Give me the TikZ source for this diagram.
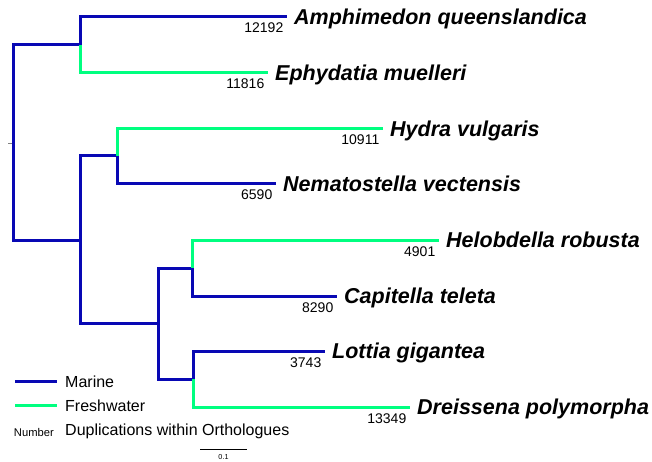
\documentclass[tikz,border=0pt]{standalone}
\usepackage{fontspec}
\setmainfont{Liberation Sans}
\definecolor{marineblue}{RGB}{8,8,180}
\definecolor{freshgreen}{RGB}{0,255,128}
\begin{document}
\begin{tikzpicture}[x=1pt,y=-1pt,line join=miter,
    marine/.style={draw=marineblue,line width=3pt},
    fresh/.style={draw=freshgreen,line width=3pt},
    taxon/.style={anchor=base west,inner sep=0pt,xshift=7pt,yshift=-7.7pt,
      font=\fontsize{21.5}{24}\selectfont\bfseries\itshape},
    dups/.style={anchor=base east,inner sep=0pt,xshift=-3.5pt,yshift=-16pt,
      font=\fontsize{14}{16}\selectfont},
    legtext/.style={anchor=west,inner sep=0pt,font=\fontsize{16}{18}\selectfont}]
  \useasboundingbox (0,0) rectangle (652,462);
  % inner nodes
  \coordinate (root) at (13,143);
  \coordinate (tick) at (8,143);
  \coordinate (porif) at (80,45);
  \coordinate (eumet) at (80,240);
  \coordinate (cnid) at (117,156);
  \coordinate (bilat) at (158,323);
  \coordinate (annel) at (192,268);
  \coordinate (mollu) at (193,379);
  % tips
  \coordinate (amq) at (287,17);
  \coordinate (emu) at (268,73);
  \coordinate (hvu) at (383,129);
  \coordinate (nve) at (276,184);
  \coordinate (hro) at (439,240);
  \coordinate (cte) at (337,296);
  \coordinate (lgi) at (325,351);
  \coordinate (dpo) at (410,407);
  \draw[gray,line width=0.8pt] (tick) -- (root);
  \draw[marine] (root) |- (porif);
  \draw[marine] (root) |- (eumet);
  \draw[marine] (porif) |- (amq);
  \draw[fresh] (porif) |- (emu);
  \draw[marine] (eumet) |- (cnid);
  \draw[marine] (eumet) |- (bilat);
  \draw[fresh] (cnid) |- (hvu);
  \draw[marine] (cnid) |- (nve);
  \draw[marine] (bilat) |- (annel);
  \draw[marine] (bilat) |- (mollu);
  \draw[fresh] (annel) |- (hro);
  \draw[marine] (annel) |- (cte);
  \draw[marine] (mollu) |- (lgi);
  \draw[fresh] (mollu) |- (dpo);
  % names and duplication counts
  \node[taxon] (amqname) at (amq) {Amphimedon queenslandica};
  \node[dups] (amqnum) at (amq) {12192};
  \node[taxon] (emuname) at (emu) {Ephydatia muelleri};
  \node[dups] (emunum) at (emu) {11816};
  \node[taxon] (hvuname) at (hvu) {Hydra vulgaris};
  \node[dups] (hvunum) at (hvu) {10911};
  \node[taxon] (nvename) at (nve) {Nematostella vectensis};
  \node[dups] (nvenum) at (nve) {6590};
  \node[taxon] (hroname) at (hro) {Helobdella robusta};
  \node[dups] (hronum) at (hro) {4901};
  \node[taxon] (ctename) at (cte) {Capitella teleta};
  \node[dups] (ctenum) at (cte) {8290};
  \node[taxon] (lginame) at (lgi) {Lottia gigantea};
  \node[dups] (lginum) at (lgi) {3743};
  \node[taxon] (dponame) at (dpo) {Dreissena polymorpha};
  \node[dups] (dponum) at (dpo) {13349};
  % legend
  \coordinate (marA) at (15,381);
  \coordinate (marB) at (57,381);
  \coordinate (freA) at (15,405);
  \coordinate (freB) at (57,405);
  \draw[marine] (marA) -- (marB);
  \draw[fresh] (freA) -- (freB);
  \node[legtext] (martext) at (65,382) {Marine};
  \node[legtext] (fretext) at (65,406) {Freshwater};
  \node[anchor=east,inner sep=0pt,font=\fontsize{11.2}{13}\selectfont] (numkey) at (54,432) {Number};
  \node[legtext] (duptext) at (65,431) {Duplications within Orthologues};
  % scale bar
  \coordinate (sbA) at (200,449);
  \coordinate (sbB) at (247,449);
  \draw[line width=0.8pt] (sbA) -- (sbB);
  \node[anchor=north,inner sep=0pt,font=\fontsize{7.2}{8}\selectfont] (sblabel) at (223.5,454) {0.1};
\end{tikzpicture}
\end{document}
